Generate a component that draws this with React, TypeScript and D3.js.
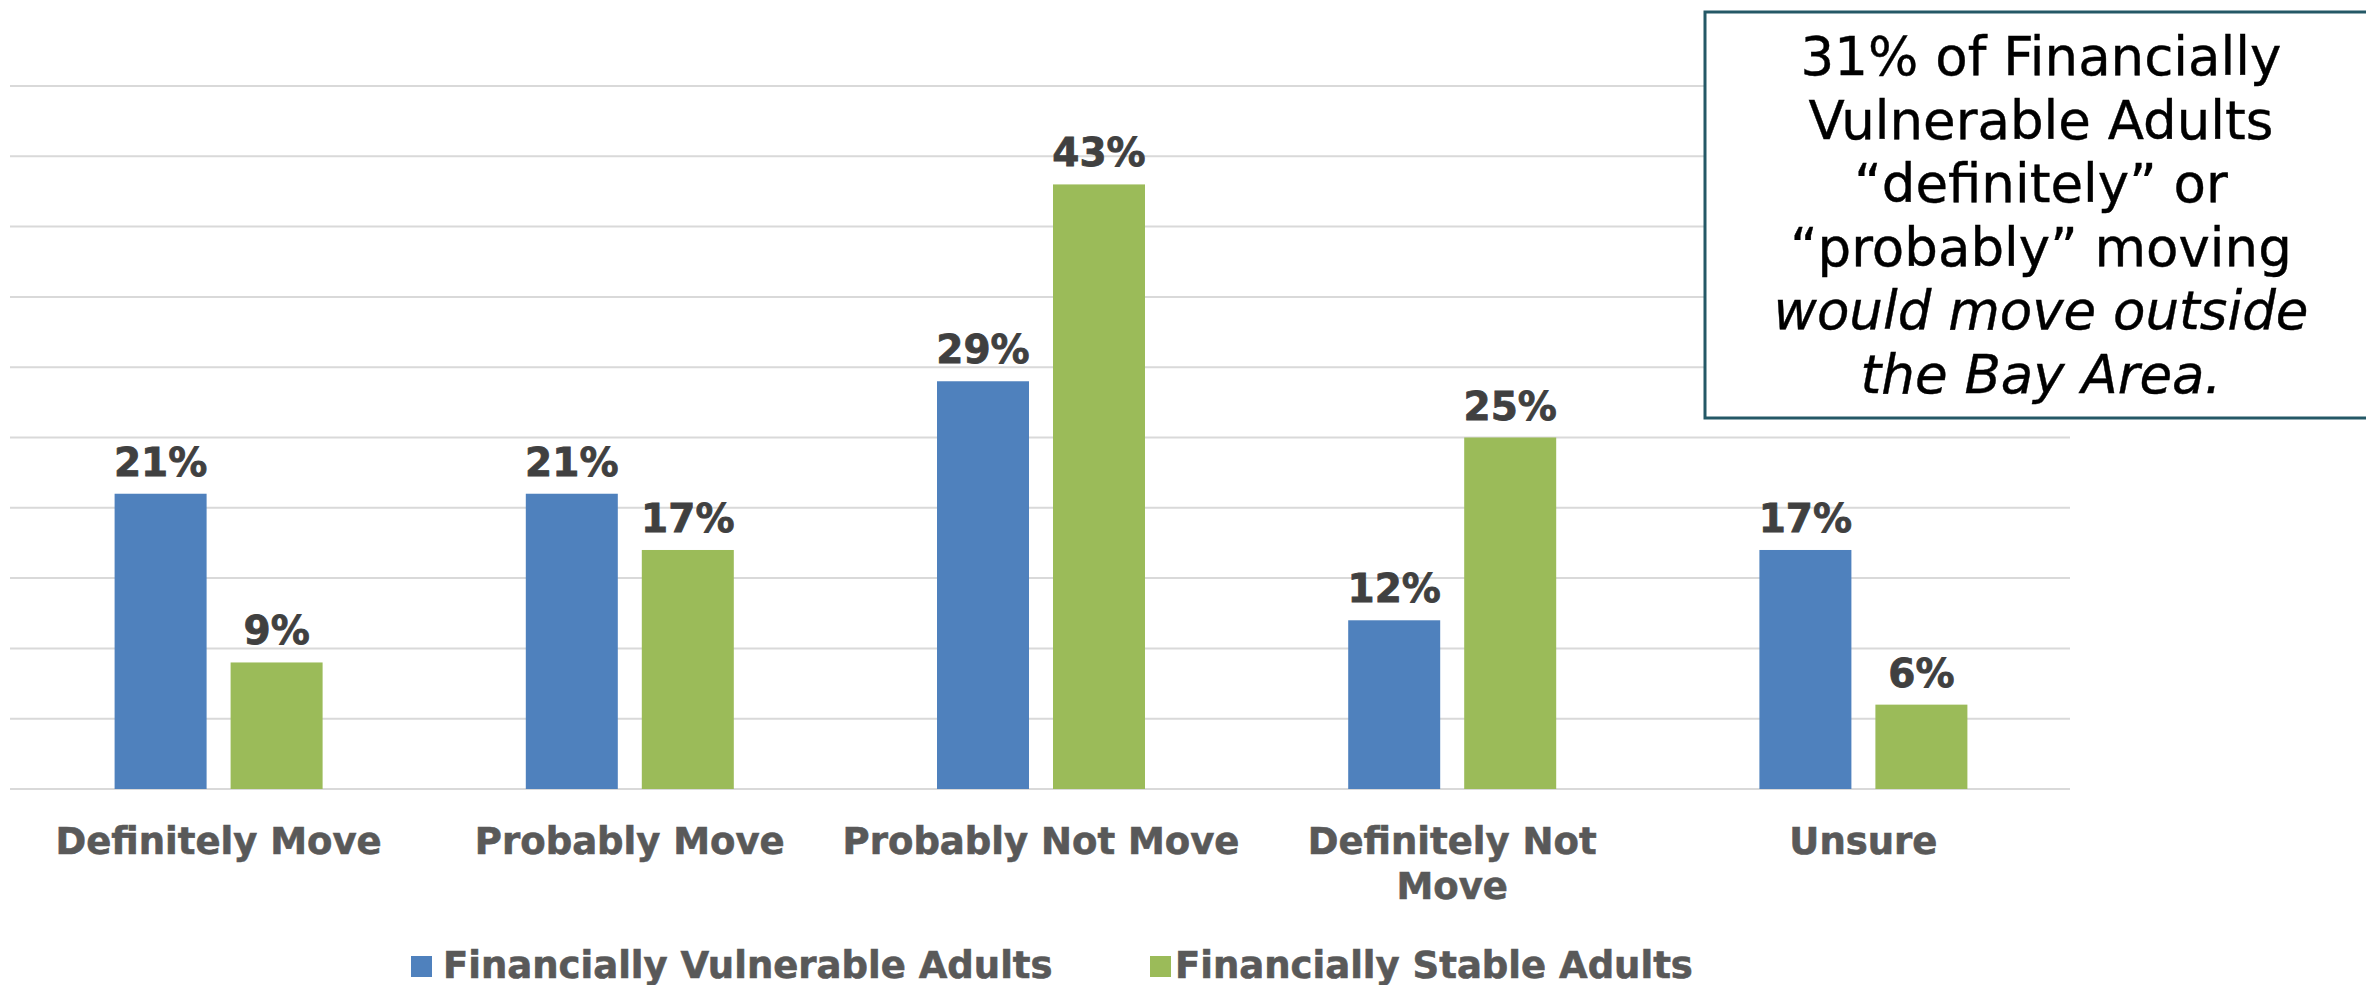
import React from "react";
import * as d3 from "d3";

const categories = ["Definitely Move", "Probably Move", "Probably Not Move", "Definitely Not Move", "Unsure"];
const categoryLines = [["Definitely Move"], ["Probably Move"], ["Probably Not Move"], ["Definitely Not", "Move"], ["Unsure"]];
const seriesNames = ["Financially Vulnerable Adults", "Financially Stable Adults"];
const vulnerable = [21, 21, 29, 12, 17];
const stable = [9, 17, 43, 25, 6];
const seriesColors = ["#4F81BD", "#9BBB59"];
const yTicks = [0, 5, 10, 15, 20, 25, 30, 35, 40, 45, 50];
const boxLines = [
  { t: "31% of Financially", italic: false },
  { t: "Vulnerable Adults", italic: false },
  { t: "\u201Cdefinitely\u201D or", italic: false },
  { t: "\u201Cprobably\u201D moving", italic: false },
  { t: "would move outside", italic: true },
  { t: "the Bay Area.", italic: true },
];

const W = 2366;
const H = 985;

export default function App() {
  const x = d3.scaleBand<string>().domain(categories).range([13, 2069]).padding(0);
  const bw = x.bandwidth();
  const inner = d3
    .scaleBand<number>()
    .domain([0, 1])
    .range([bw / 2 - 104, bw / 2 + 104])
    .paddingInner(24 / 116)
    .paddingOuter(0);
  const y = d3.scaleLinear().domain([0, 50]).range([789, 86]);
  const data = [vulnerable, stable];
  const font = "'DejaVu Sans', Verdana, sans-serif";

  return (
    <svg
      width={W}
      height={H}
      style={{ position: "absolute", left: 0, top: 0, background: "#fff" }}
      fontFamily={font}
    >
      <rect x={0} y={0} width={W} height={H} fill="#fff" />
      {yTicks.map((t) => (
        <line key={t} x1={10} x2={2070} y1={y(t)} y2={y(t)} stroke="#D9D9D9" strokeWidth={2} />
      ))}
      {data.map((vals, si) =>
        vals.map((v, ci) => {
          const bx = (x(categories[ci]) as number) + (inner(si) as number);
          return (
            <g key={`${si}-${ci}`}>
              <rect x={bx} y={y(v)} width={inner.bandwidth()} height={y(0) - y(v)} fill={seriesColors[si]} />
              <text
                x={bx + inner.bandwidth() / 2}
                y={y(v) - 18}
                textAnchor="middle"
                fontSize={39}
                fontWeight="bold"
                fill="#404040"
                stroke="#404040"
                strokeWidth={0.8}
              >
                {v}%
              </text>
            </g>
          );
        })
      )}
      {categories.map((c, ci) => (
        <text
          key={c}
          textAnchor="middle"
          fontSize={37}
          fontWeight="bold"
          fill="#595959"
          stroke="#595959"
          strokeWidth={0.6}
        >
          {categoryLines[ci].map((ln, li) => (
            <tspan key={li} x={(x(c) as number) + bw / 2} y={854 + li * 45}>
              {ln}
            </tspan>
          ))}
        </text>
      ))}
      <g fontSize={37} fontWeight="bold" fill="#595959" stroke="#595959" strokeWidth={0.6}>
        <rect x={411} y={956} width={21} height={21} fill={seriesColors[0]} stroke="none" />
        <text x={443} y={978}>
          {seriesNames[0]}
        </text>
        <rect x={1150} y={956} width={21} height={21} fill={seriesColors[1]} stroke="none" />
        <text x={1175} y={978}>
          {seriesNames[1]}
        </text>
      </g>
      <rect x={1705} y={12} width={680} height={406} fill="#fff" stroke="#245866" strokeWidth={3} />
      {boxLines.map((l, i) => (
        <text
          key={i}
          x={2041}
          y={75 + i * 63.6}
          textAnchor="middle"
          fontSize={53}
          fontStyle={l.italic ? "italic" : "normal"}
          fill="#000"
          stroke="#000"
          strokeWidth={0.4}
        >
          {l.t}
        </text>
      ))}
    </svg>
  );
}
